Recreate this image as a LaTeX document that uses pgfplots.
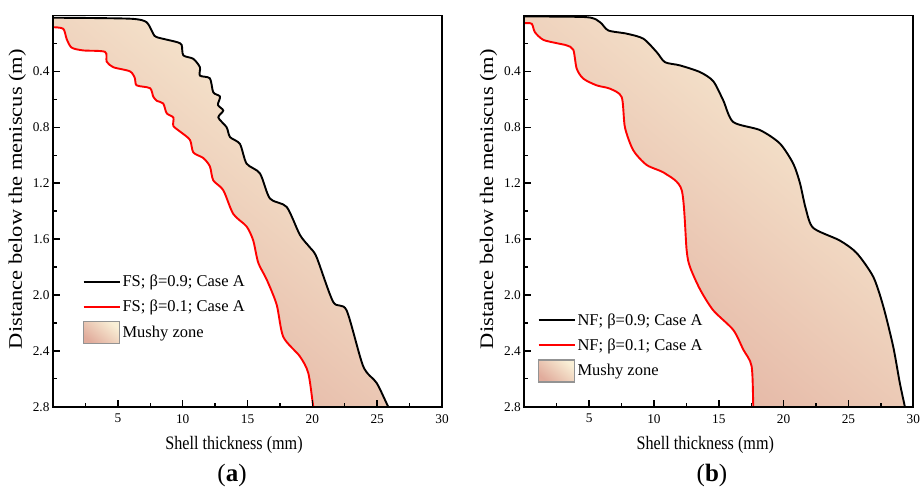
\documentclass[border=0pt]{standalone}
\usepackage{fontspec}
\setmainfont{Liberation Serif}
\usepackage{graphicx}
\usepackage{pgfplots}
\pgfplotsset{compat=1.18}
\usepackage{pgfplotstable}

\definecolor{cream}{RGB}{249,239,214}
\definecolor{pinkz}{RGB}{225,172,156}

\pgfplotstableread{
x y
0 0.016
3 0.018
6.17 0.024
7.22 0.048
7.73 0.13
8.0 0.155
9.54 0.19
9.92 0.21
10.05 0.285
10.82 0.31
11.33 0.37
11.33 0.43
12.1 0.45
12.36 0.55
12.88 0.58
12.72 0.64
13.13 0.68
12.75 0.73
13.39 0.80
13.65 0.87
14.42 0.92
14.93 1.06
15.96 1.13
16.73 1.31
18.02 1.37
19.04 1.57
19.81 1.66
20.33 1.73
21.61 2.05
22.64 2.11
23.92 2.51
24.96 2.63
25.85 2.80
26.9 3.00
}\FSnine

\pgfplotstableread{
x y
0 0.084
0.79 0.095
1.06 0.17
1.44 0.23
2.34 0.25
4.01 0.26
4.14 0.33
4.65 0.37
5.94 0.40
6.32 0.45
6.45 0.50
7.48 0.52
7.73 0.58
8.0 0.61
8.5 0.63
8.77 0.70
9.28 0.73
9.28 0.79
9.79 0.83
10.56 0.89
10.82 0.98
11.59 1.02
12.1 1.08
12.36 1.18
13.13 1.25
13.9 1.42
14.93 1.51
15.44 1.61
15.83 1.77
16.48 1.89
17.25 2.07
17.76 2.30
19.04 2.44
19.69 2.56
20.07 2.80
20.4 3.00
}\FSone

\pgfplotstableread{
x y
0 0.007
4.81 0.012
5.84 0.048
6.48 0.107
7.9 0.13
9.18 0.166
10.21 0.262
10.85 0.334
12.0 0.357
13.55 0.405
14.57 0.47
15.34 0.607
16.11 0.762
18.17 0.82
19.71 0.916
20.74 1.06
21.26 1.20
21.7 1.38
22.28 1.52
24.32 1.61
25.63 1.70
26.91 1.87
27.68 2.08
28.45 2.37
28.96 2.63
29.35 2.80
29.8 3.00
}\NFnine

\pgfplotstableread{
x y
0 0.055
0.57 0.059
0.82 0.12
1.46 0.174
2.5 0.198
3.27 0.214
3.78 0.245
4.04 0.38
4.55 0.452
5.58 0.50
6.61 0.524
7.51 0.584
7.76 0.80
8.4 0.964
9.44 1.07
10.85 1.13
12.14 1.25
12.52 1.68
12.78 1.80
13.55 1.96
14.57 2.11
16.11 2.25
16.88 2.39
17.53 2.51
17.66 2.80
17.75 3.00
}\NFone

% mushy-zone outlines: beta=0.9 curve down, beta=0.1 curve back up
\pgfplotstablesort[sort key=y]{\FSzone}{\FSnine}
\pgfplotstablesort[sort key=y, sort cmp=float >]{\FSoneRev}{\FSone}
\pgfplotstablevertcat{\FSzone}{\FSoneRev}
\pgfplotstablesort[sort key=y]{\NFzone}{\NFnine}
\pgfplotstablesort[sort key=y, sort cmp=float >]{\NFoneRev}{\NFone}
\pgfplotstablevertcat{\NFzone}{\NFoneRev}

\pgfplotsset{
  panel/.style={
    scale only axis, width=389pt, height=391.2pt,
    xmin=0, xmax=30, ymin=0, ymax=2.8, y dir=reverse,
    axis on top,
    xtick={5,10,...,30}, minor xtick={2.5,7.5,...,27.5},
    ytick={0.4,0.8,1.2,1.6,2.0,2.4,2.8}, minor ytick={0.2,0.6,1.0,1.4,1.8,2.2,2.6},
    tick align=inside, xtick pos=bottom, ytick pos=left,
    major tick length=7pt, minor tick length=3.5pt,
    every tick/.style={black, line width=1.4pt},
    axis line style={line width=1.7pt},
    /pgf/number format/assume math mode=true,
    tick label style={font=\fontsize{13.3}{15}\selectfont},
    xticklabel style={yshift=-4pt},
    yticklabel style={/pgf/number format/.cd, fixed, fixed zerofill, precision=1},
    xlabel={\scalebox{0.85}[1]{Shell thickness (mm)}},
    xlabel style={font=\fontsize{19}{21}\selectfont, xshift=-13.5pt, yshift=-6pt},
    ylabel={\scalebox{1}[0.85]{Distance below the meniscus (m)}},
    ylabel style={font=\fontsize{22.5}{24}\selectfont, xshift=12pt},
    legend cell align=left,
    legend style={draw=none, fill=none, font=\fontsize{16.5}{18}\selectfont,
      anchor=north west, row sep=3pt, nodes={inner xsep=2pt, inner ysep=0pt}},
  },
  bk/.style={black, line width=1.9pt, smooth, tension=0.45,
    legend image code/.code={\path[draw=none,fill=none] (0pt,-11pt) rectangle (36pt,11pt); \draw[black, line width=1.9pt] (0pt,0pt) -- (36pt,0pt);}},
  rd/.style={red, line width=1.9pt, smooth, tension=0.45,
    legend image code/.code={\path[draw=none,fill=none] (0pt,-11pt) rectangle (36pt,11pt); \draw[red, line width=1.9pt] (0pt,0pt) -- (36pt,0pt);}},
  mz/.style={draw=none, top color=cream, bottom color=pinkz, shading angle=-40, smooth, tension=0.45,
    legend image code/.code={\shade[top color=cream, bottom color=pinkz, shading angle=-40, draw=gray!85, line width=1.4pt] (0pt,-11pt) rectangle (36pt,11pt);}},
}

\begin{document}
\begin{tikzpicture}
\useasboundingbox (0,0) rectangle (921pt,488pt);
\begin{axis}[panel, at={(53pt,81.3pt)}, anchor=south west,
  legend style={at={(0.068,0.353)}}]
  \addplot[mz, forget plot] table {\FSzone};
  \addplot[bk] table {\FSnine};
  \addlegendentry{FS; β=0.9; Case A}
  \addplot[rd] table {\FSone};
  \addlegendentry{FS; β=0.1; Case A}
  \addlegendimage{mz}
  \addlegendentry{Mushy zone}
\end{axis}
\begin{axis}[panel, at={(524.3pt,81.3pt)}, anchor=south west,
  legend style={at={(0.026,0.255)}}]
  \addplot[mz, forget plot] table {\NFzone};
  \addplot[bk] table {\NFnine};
  \addlegendentry{NF; β=0.9; Case A}
  \addplot[rd] table {\NFone};
  \addlegendentry{NF; β=0.1; Case A}
  \addlegendimage{mz}
  \addlegendentry{Mushy zone}
\end{axis}
\node[font=\fontsize{25}{27}\selectfont] at (232pt,13pt) {(\textbf{a})};
\node[font=\fontsize{25}{27}\selectfont] at (712pt,13pt) {(\textbf{b})};
\end{tikzpicture}
\end{document}
